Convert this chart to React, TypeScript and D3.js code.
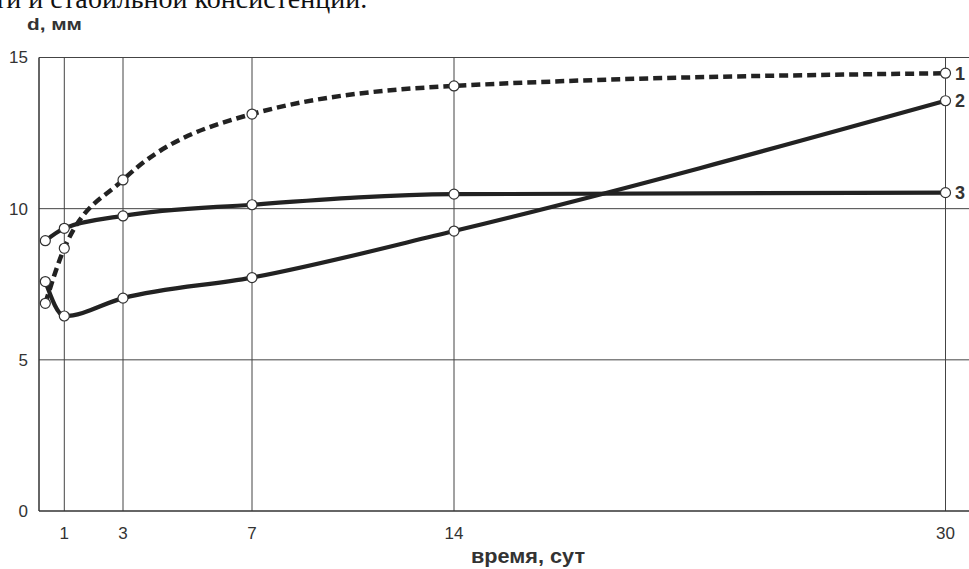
import React from "react";
import * as d3 from "d3";

const days = [0.25, 1, 3, 7, 14, 30];
const series1 = [6.87, 8.69, 10.95, 13.13, 14.06, 14.48];
const series2 = [7.59, 6.45, 7.04, 7.72, 9.26, 13.57];
const series3 = [8.94, 9.35, 9.76, 10.13, 10.48, 10.53];
const seriesNames = ["1", "2", "3"];
const xTicks = [1, 3, 7, 14, 30];
const yTicks = [0, 5, 10, 15];
const yLabel = "d, мм";
const xLabel = "время, сут";
const headerText = "ти и стабильной консистенции.";

const W = 969;
const H = 569;

export default function App() {
  const x = d3
    .scaleLinear()
    .domain([0, 1, 3, 7, 14, 30])
    .range([39, 64.3, 123, 252, 454, 945.5]);
  const y = d3.scaleLinear().domain([0, 15]).range([511, 57.5]);
  const right = W;

  const line = d3
    .line<number>()
    .x((_, i) => x(days[i]))
    .y((d) => y(d))
    .curve(d3.curveMonotoneX);

  const all = [series1, series2, series3];
  const dashed = [true, false, false];
  const font = "'Liberation Sans', Arial, sans-serif";

  return (
    <div style={{ position: "fixed", left: 0, top: 0 }}>
      <svg width={W} height={H} style={{ display: "block", background: "#fff" }}>
        <text
          x={-6}
          y={8}
          fontFamily="'Liberation Serif', 'Times New Roman', serif"
          fontSize={28}
          fill="#111"
        >
          {headerText}
        </text>
        <text
          x={27}
          y={30}
          fontFamily={font}
          fontSize={17}
          fontWeight="bold"
          fill="#333"
          textLength={55}
          lengthAdjust="spacingAndGlyphs"
        >
          {yLabel}
        </text>
        {yTicks.map((t) => (
          <g key={"y" + t}>
            {t > 0 && (
              <line x1={x(0)} x2={right} y1={y(t)} y2={y(t)} stroke="#444" strokeWidth={1} />
            )}
            <text
              x={28}
              y={y(t)}
              dy="0.35em"
              textAnchor="end"
              fontFamily={font}
              fontSize={17}
              fill="#333"
            >
              {t}
            </text>
          </g>
        ))}
        {xTicks.map((t) => (
          <g key={"x" + t}>
            <line x1={x(t)} x2={x(t)} y1={y(15)} y2={y(0)} stroke="#444" strokeWidth={1} />
            <text
              x={x(t)}
              y={539}
              textAnchor="middle"
              fontFamily={font}
              fontSize={17}
              fill="#333"
            >
              {t}
            </text>
          </g>
        ))}
        <line x1={x(0)} x2={x(0)} y1={y(15)} y2={y(0)} stroke="#333" strokeWidth={1.5} />
        <line x1={x(0)} x2={right} y1={y(0)} y2={y(0)} stroke="#333" strokeWidth={1.5} />
        <text
          x={471}
          y={563}
          fontFamily={font}
          fontSize={20}
          fontWeight="bold"
          fill="#333"
          textLength={114}
          lengthAdjust="spacingAndGlyphs"
        >
          {xLabel}
        </text>
        {all.map((s, k) => (
          <path
            key={"l" + k}
            d={line(s) || ""}
            fill="none"
            stroke="#222"
            strokeWidth={dashed[k] ? 4.5 : 4.2}
            strokeDasharray={dashed[k] ? "9 5" : undefined}
            strokeLinejoin="round"
          />
        ))}
        {all.map((s, k) =>
          s.map((v, i) => (
            <circle
              key={"c" + k + "-" + i}
              cx={x(days[i])}
              cy={y(v)}
              r={5}
              fill="#fff"
              stroke="#333"
              strokeWidth={1.2}
            />
          ))
        )}
        {all.map((s, k) => (
          <text
            key={"n" + k}
            x={955}
            y={y(s[s.length - 1])}
            dy="0.36em"
            fontFamily={font}
            fontSize={18}
            fontWeight="bold"
            fill="#333"
          >
            {seriesNames[k]}
          </text>
        ))}
      </svg>
    </div>
  );
}
